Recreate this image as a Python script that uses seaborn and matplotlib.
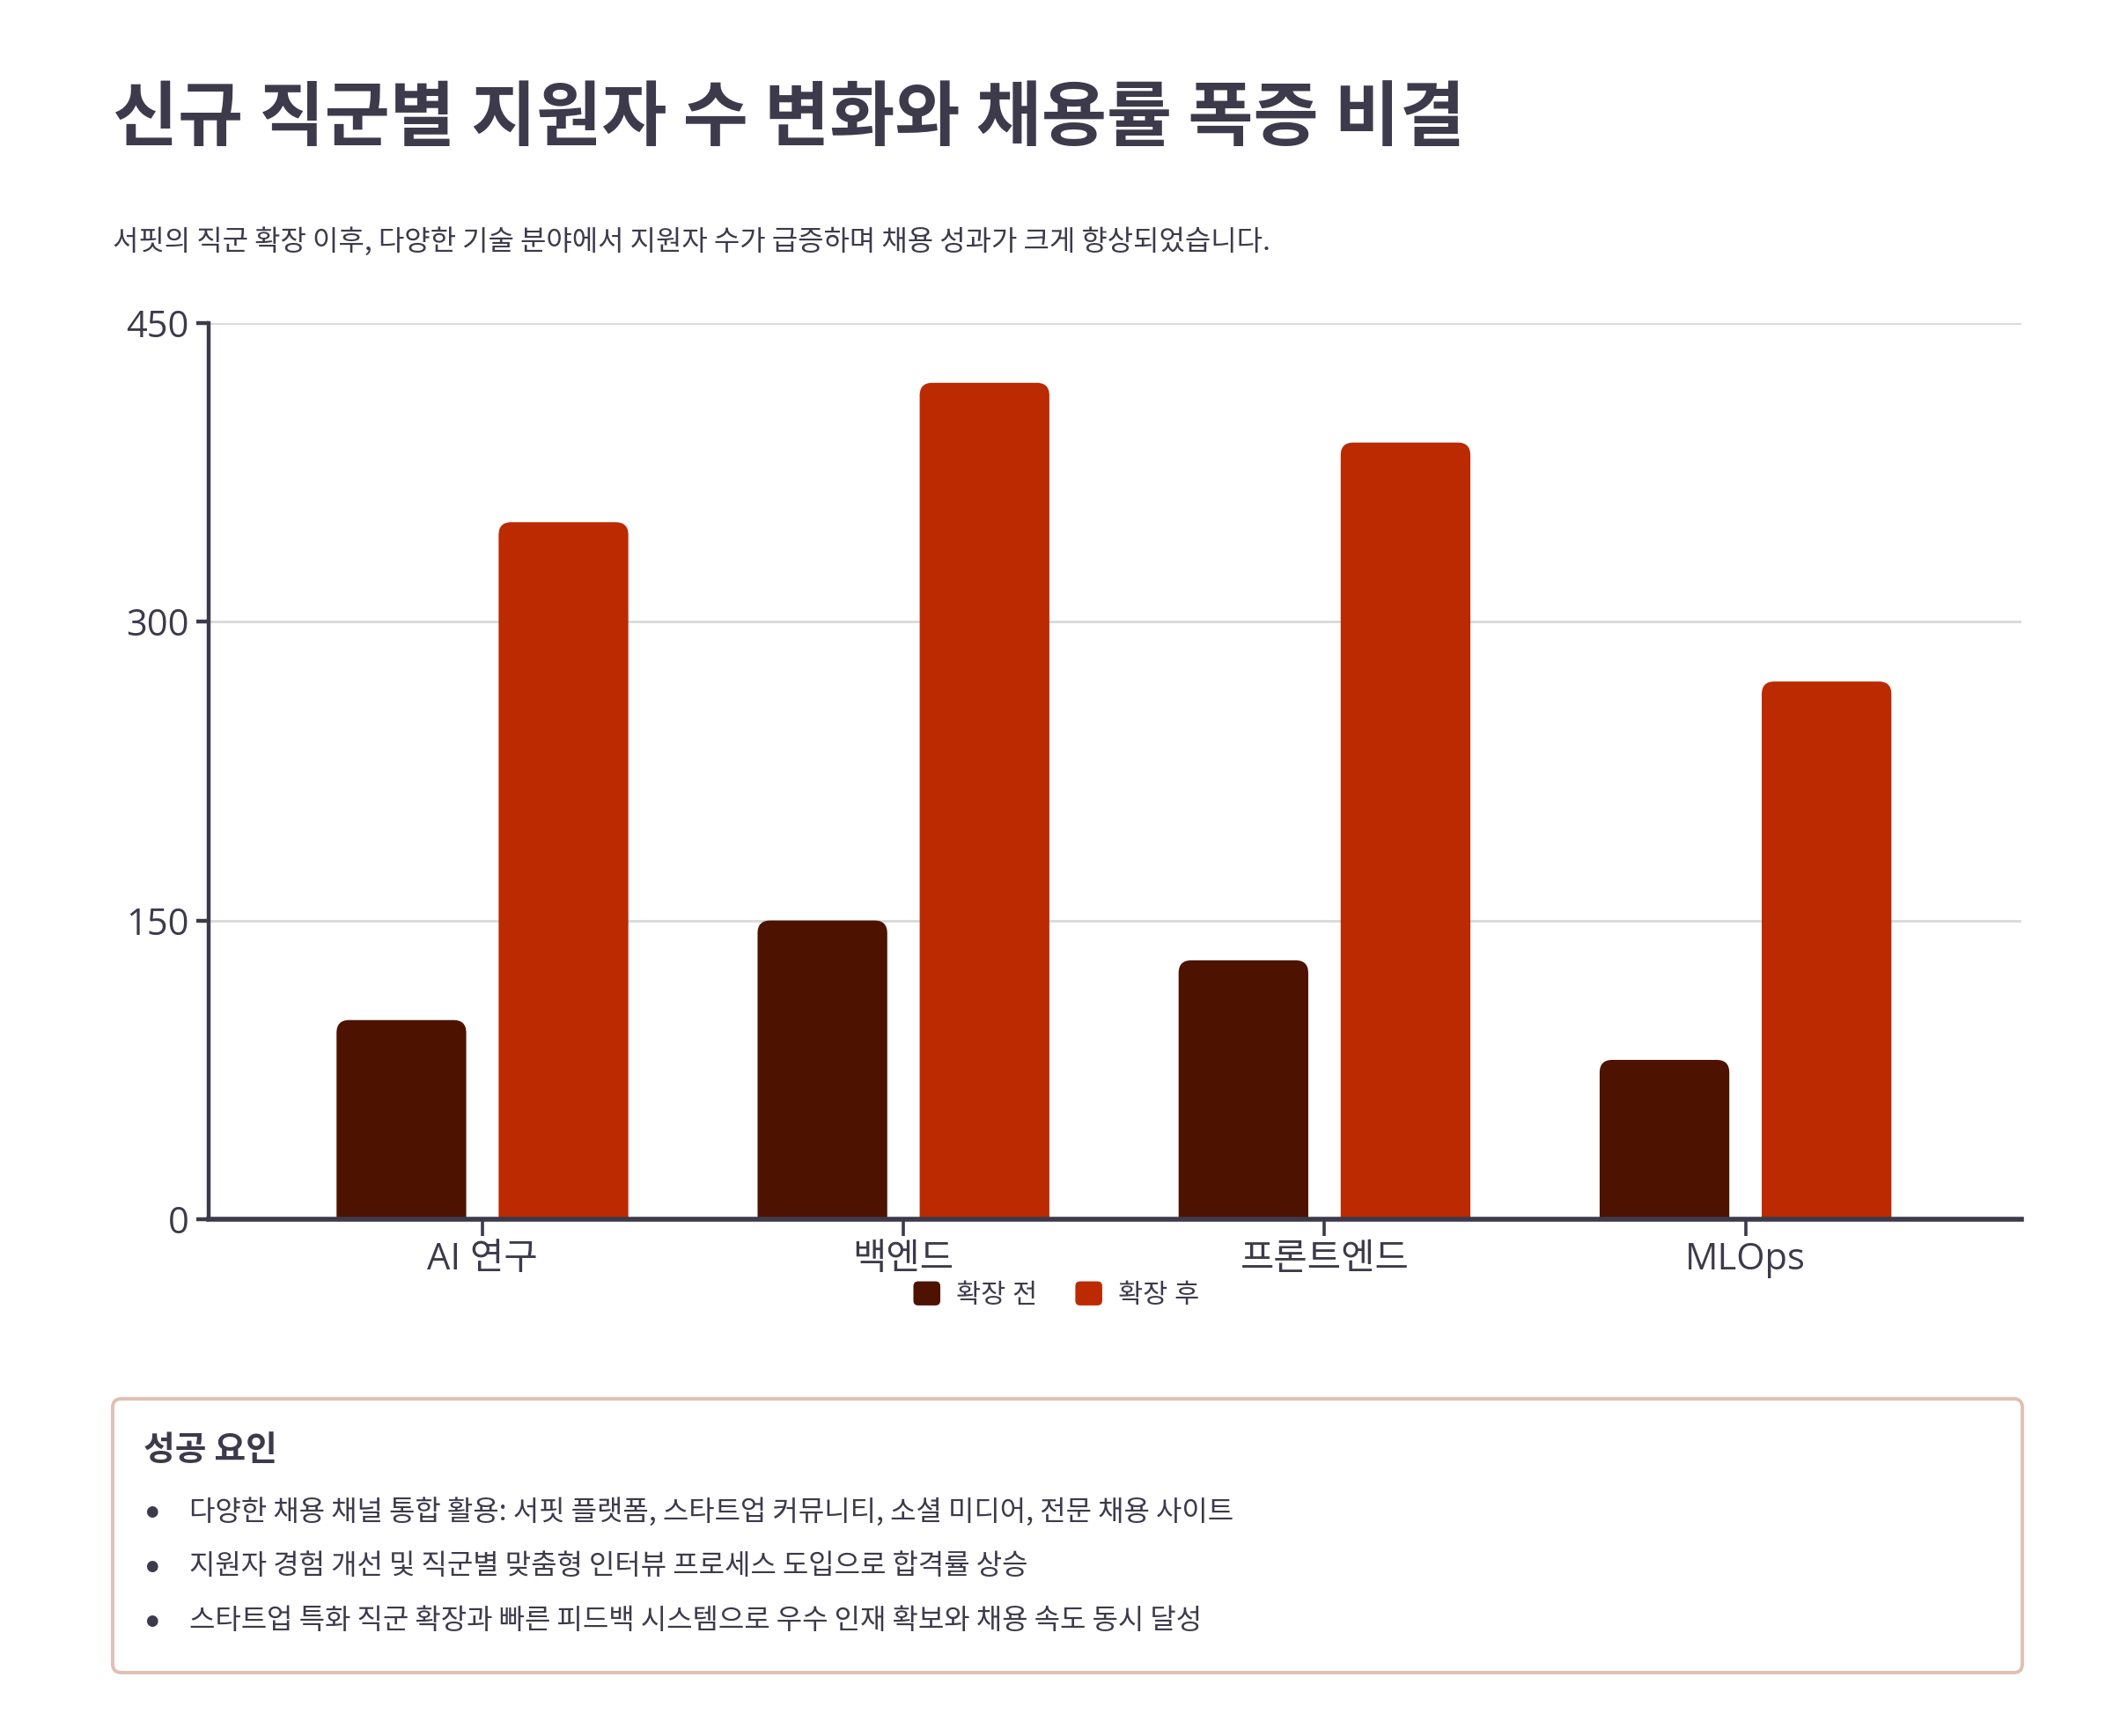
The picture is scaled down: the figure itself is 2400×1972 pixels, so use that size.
import matplotlib
matplotlib.use('Agg')
import matplotlib.pyplot as plt
from matplotlib.patches import FancyBboxPatch, Patch
from matplotlib.legend_handler import HandlerPatch
import numpy as np
import pandas as pd
import seaborn as sns

# 데이터
jobs = ['AI 연구', '백엔드', '프론트엔드', 'MLOps']
before = [100, 150, 130, 80]
after = [350, 420, 390, 270]
series_names = ['확장 전', '확장 후']
colors = ['#4d1200', '#bb2a00']
y_ticks = [0, 150, 300, 450]

title = '신규 직군별 지원자 수 변화와 채용률 폭증 비결'
subtitle = '서핏의 직군 확장 이후, 다양한 기술 분야에서 지원자 수가 급증하며 채용 성과가 크게 향상되었습니다.'
box_title = '성공 요인'
factors = [
    '다양한 채용 채널 통합 활용: 서핏 플랫폼, 스타트업 커뮤니티, 소셜 미디어, 전문 채용 사이트',
    '지원자 경험 개선 및 직군별 맞춤형 인터뷰 프로세스 도입으로 합격률 상승',
    '스타트업 특화 직군 확장과 빠른 피드백 시스템으로 우수 인재 확보와 채용 속도 동시 달성',
]

text_color = '#3d3a4b'
kr = ['Noto Sans CJK KR', 'DejaVu Sans']


class RoundHandler(HandlerPatch):
    # 범례 아이콘을 둥근 사각형으로
    def create_artists(self, legend, orig_handle, xdescent, ydescent,
                       width, height, fontsize, trans):
        p = FancyBboxPatch((-xdescent, -ydescent), width, height,
                           boxstyle=f'round,pad=0,rounding_size={0.2 * height}',
                           facecolor=orig_handle.get_facecolor(),
                           edgecolor='none', transform=trans)
        return [p]


sns.set_theme(style='white')
plt.rcParams['font.family'] = ['Open Sans', 'Noto Sans CJK KR', 'DejaVu Sans']
plt.rcParams['text.color'] = text_color

df = pd.DataFrame({
    'job': jobs * 2,
    'count': before + after,
    'period': [series_names[0]] * len(jobs) + [series_names[1]] * len(jobs),
})

fig = plt.figure(figsize=(12, 9.86), dpi=200)
ax = fig.add_axes([0.0988, 0.2977, 0.858, 0.5162])

sns.barplot(data=df, x='job', y='count', hue='period', palette=colors,
            width=0.77, gap=0.2, saturation=1, legend=False, ax=ax,
            errorbar=None)

ax.set_xlim(-0.65, 3.656)
ax.set_ylim(0, 450)

# 막대 윗모서리 둥글게
bars = [p for p in ax.patches]
for p in bars:
    x0, w, h = p.get_x(), p.get_width(), p.get_height()
    fc = p.get_facecolor()
    p.remove()
    ax.add_patch(FancyBboxPatch((x0, -10), w, h + 10,
                                boxstyle='round,pad=0,rounding_size=0.03',
                                mutation_aspect=212, facecolor=fc,
                                edgecolor='none', zorder=2))

ax.set_yticks(y_ticks)
ax.yaxis.grid(True, color='#d9d9d9', linewidth=1.0, zorder=0)
ax.set_axisbelow(True)
ax.set_xlabel('')
ax.set_ylabel('')

for side in ['top', 'right']:
    ax.spines[side].set_visible(False)
ax.spines['left'].set_color(text_color)
ax.spines['left'].set_linewidth(1.6)
ax.spines['bottom'].set_color(text_color)
ax.spines['bottom'].set_linewidth(2.0)
ax.spines['bottom'].set_zorder(3)

ax.tick_params(axis='y', left=True, direction='out', length=5, width=1.6,
               color=text_color, labelsize=15, labelcolor=text_color, pad=3)
ax.tick_params(axis='x', bottom=True, direction='out', length=7, width=1.3,
               color=text_color, labelsize=15, labelcolor=text_color, pad=2)

handles = [Patch(facecolor=c, edgecolor='none') for c in colors]
fig.legend(handles, series_names, loc='center', bbox_to_anchor=(0.5, 0.254),
           ncol=2, frameon=False, fontsize=11, handlelength=1.0, handleheight=1.0,
           handletextpad=0.6, columnspacing=1.4, labelcolor=text_color,
           handler_map={Patch: RoundHandler()})

# 제목
fig.text(0.0533, 1 - 136 / 1972, title, fontsize=29, fontweight='bold',
         color=text_color, va='center', ha='left', family=kr)
fig.text(0.0533, 1 - 275 / 1972, subtitle, fontsize=11.5, color=text_color,
         va='center', ha='left', family=kr)

# 성공 요인 박스
bx0, bx1 = 128 / 2400, 2297 / 2400
by_top, by_bot = 1 - 1589 / 1972, 1 - 1900 / 1972
box = FancyBboxPatch((bx0, by_bot), bx1 - bx0, by_top - by_bot,
                     boxstyle='round,pad=0,rounding_size=0.004',
                     mutation_aspect=2400 / 1972, transform=fig.transFigure,
                     facecolor='white', edgecolor='#e2bfb2', linewidth=1.4)
fig.patches.append(box)

fig.text(163 / 2400, 1 - 1648 / 1972, box_title, fontsize=14, fontweight='bold',
         color=text_color, va='center', ha='left', family=kr)
for i, line in enumerate(factors):
    yy = 1 - (1717 + 62 * i) / 1972
    fig.text(172 / 2400, yy, '●', fontsize=6, color=text_color,
             va='center', ha='center', family=['DejaVu Sans'])
    fig.text(215 / 2400, yy, line, fontsize=11.5, color=text_color,
             va='center', ha='left', family=kr)

fig.savefig('out.png', dpi=200, facecolor='white')
